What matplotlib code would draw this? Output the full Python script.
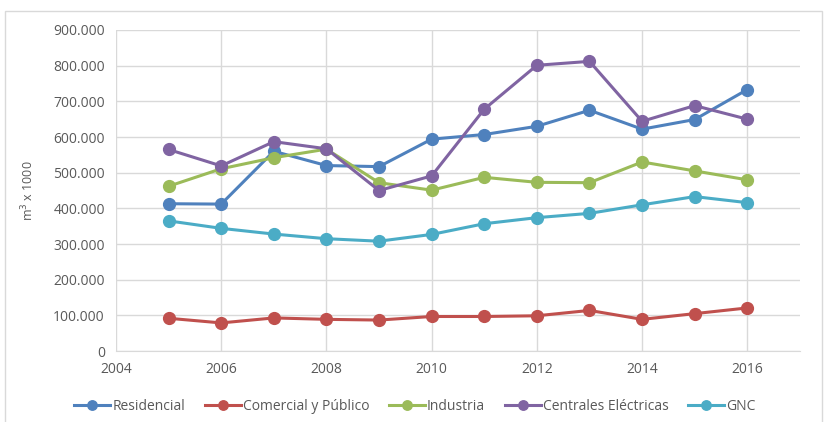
import matplotlib.pyplot as plt
from matplotlib.patches import Rectangle
from matplotlib.ticker import FuncFormatter

plt.rcParams['font.family'] = ['Open Sans', 'DejaVu Sans']

years = [2005, 2006, 2007, 2008, 2009, 2010, 2011, 2012, 2013, 2014, 2015, 2016]
residencial = [413, 412, 560, 520, 517, 594, 607, 630, 675, 622, 649, 733]
comercial = [92, 79, 93, 89, 87, 97, 97, 99, 114, 89, 105, 121]
industria = [462, 511, 542, 566, 472, 451, 487, 473, 472, 530, 505, 480]
centrales = [565, 519, 587, 567, 450, 491, 678, 801, 812, 644, 688, 650]
gnc = [365, 344, 328, 315, 308, 327, 357, 374, 386, 410, 433, 416]

series = [
    ('Residencial', residencial, '#4F81BD'),
    ('Comercial y Público', comercial, '#C0504D'),
    ('Industria', industria, '#9BBB59'),
    ('Centrales Eléctricas', centrales, '#8064A2'),
    ('GNC', gnc, '#4BACC6'),
]

fig = plt.figure(figsize=(8.25, 4.22), dpi=100)
fig.patches.append(Rectangle((0.006, -0.01), 0.99, 0.985, transform=fig.transFigure,
                             fill=False, edgecolor='#D9D9D9', linewidth=1))
ax = fig.add_axes([0.1406, 0.168, 0.829, 0.761])

for name, vals, color in series:
    ax.plot(years, [v * 1000 for v in vals], color=color, linewidth=2.2,
            marker='o', markersize=8.5, label=name)

ax.set_xlim(2004, 2017)
ax.set_ylim(0, 900000)
ax.set_xticks(range(2004, 2017, 2))
ax.set_yticks(range(0, 900001, 100000))
ax.yaxis.set_major_formatter(FuncFormatter(lambda v, p: f'{int(v):,}'.replace(',', '.')))
ax.grid(True, color='#D9D9D9', linewidth=1)
ax.set_axisbelow(True)
for s in ['top', 'right', 'left']:
    ax.spines[s].set_visible(False)
ax.spines['bottom'].set_color('#D9D9D9')
ax.tick_params(length=0, labelsize=10, colors='#595959', pad=8)
ax.set_ylabel('m$^3$ x 1000', fontsize=9, color='#595959', labelpad=12)

fig.legend(loc='center', bbox_to_anchor=(0.503, 0.037), ncol=5, frameon=False,
           fontsize=10, labelcolor='#595959', handlelength=2.6, columnspacing=1.4,
           handletextpad=0.15, markerscale=0.8)

fig.savefig('out.png', dpi=100)
